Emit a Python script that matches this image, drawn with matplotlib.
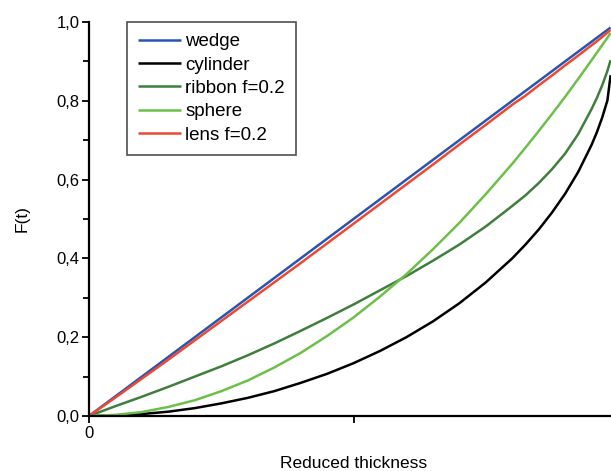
import matplotlib
matplotlib.use("Agg")
import matplotlib.pyplot as plt
from matplotlib.ticker import MultipleLocator

plt.rcParams['font.family'] = ['Liberation Sans', 'DejaVu Sans']

# Reduced thickness samples
t = [0, 0.05, 0.1, 0.15, 0.2, 0.25, 0.3, 0.35, 0.4, 0.45, 0.5, 0.55, 0.6,
     0.65, 0.7, 0.75, 0.8, 0.825, 0.85, 0.875, 0.9, 0.925, 0.95, 0.96,
     0.97, 0.98, 0.986]

wedge = [0, 0.05, 0.1, 0.15, 0.2, 0.25, 0.3, 0.35, 0.4, 0.45, 0.5, 0.55, 0.6,
         0.65, 0.7, 0.75, 0.8, 0.825, 0.85, 0.875, 0.9, 0.925, 0.95, 0.96,
         0.97, 0.98, 0.986]
cylinder = [0, 0.001, 0.005, 0.011, 0.020, 0.032, 0.046, 0.063, 0.084, 0.107,
            0.134, 0.165, 0.200, 0.240, 0.286, 0.339, 0.400, 0.435, 0.473,
            0.516, 0.564, 0.620, 0.688, 0.720, 0.757, 0.801, 0.865]
ribbon = [0, 0.025, 0.049, 0.074, 0.100, 0.126, 0.154, 0.184, 0.216, 0.249,
          0.283, 0.319, 0.355, 0.394, 0.435, 0.481, 0.533, 0.560, 0.591,
          0.626, 0.666, 0.716, 0.779, 0.807, 0.839, 0.876, 0.903]
sphere = [0, 0.003, 0.010, 0.023, 0.040, 0.063, 0.090, 0.123, 0.160, 0.203,
          0.250, 0.303, 0.360, 0.423, 0.490, 0.563, 0.640, 0.681, 0.723,
          0.766, 0.810, 0.856, 0.903, 0.922, 0.941, 0.960, 0.972]
lens = [0, 0.047, 0.095, 0.143, 0.192, 0.241, 0.290, 0.339, 0.388, 0.438,
        0.488, 0.538, 0.588, 0.638, 0.689, 0.739, 0.790, 0.813, 0.839,
        0.864, 0.890, 0.915, 0.941, 0.951, 0.962, 0.973, 0.980]

series = [
    ("wedge", wedge, "#2b54b0"),
    ("cylinder", cylinder, "#000000"),
    ("ribbon f=0.2", ribbon, "#3f7f3c"),
    ("sphere", sphere, "#6cc04a"),
    ("lens f=0.2", lens, "#ea4a33"),
]

y_ticks = [0.0, 0.2, 0.4, 0.6, 0.8, 1.0]
y_ticklabels = ["0,0", "0,2", "0,4", "0,6", "0,8", "1,0"]
x_ticks = [0, 0.5, 1.0]
x_ticklabels = ["0", "", ""]

fig = plt.figure(figsize=(6.11, 4.71), dpi=100)
ax = fig.add_axes([89 / 611, 55 / 471, 529 / 611, 394 / 471])

for name, vals, color in series:
    ax.plot(t, vals, color=color, lw=1.8, label=name, solid_capstyle="butt")

ax.set_xlim(0, 1.0)
ax.set_ylim(0, 1.0)

for side in ("top", "right"):
    ax.spines[side].set_visible(False)
for side in ("left", "bottom"):
    ax.spines[side].set_linewidth(1.6)

ax.set_yticks(y_ticks)
ax.set_yticklabels(y_ticklabels)
ax.yaxis.set_minor_locator(MultipleLocator(0.1))
ax.set_xticks(x_ticks)
ax.set_xticklabels(x_ticklabels)

ax.tick_params(axis="both", which="major", direction="out", length=5,
               width=1.3, labelsize=12, pad=2)
ax.tick_params(axis="both", which="minor", direction="out", length=4,
               width=1.3)

ax.set_ylabel("F(t)", fontsize=12.5, labelpad=19)
ax.set_xlabel("Reduced thickness", fontsize=12.5, labelpad=11)

leg = ax.legend(loc="upper left", bbox_to_anchor=(38 / 529, 1.0),
                fontsize=13.5, frameon=True, fancybox=False, handlelength=2.3,
                handletextpad=0.2, labelspacing=0.33, borderpad=0.6,
                borderaxespad=0)
leg.get_frame().set_edgecolor("#222222")
leg.get_frame().set_linewidth(1.2)

fig.savefig("out.png", dpi=100)
